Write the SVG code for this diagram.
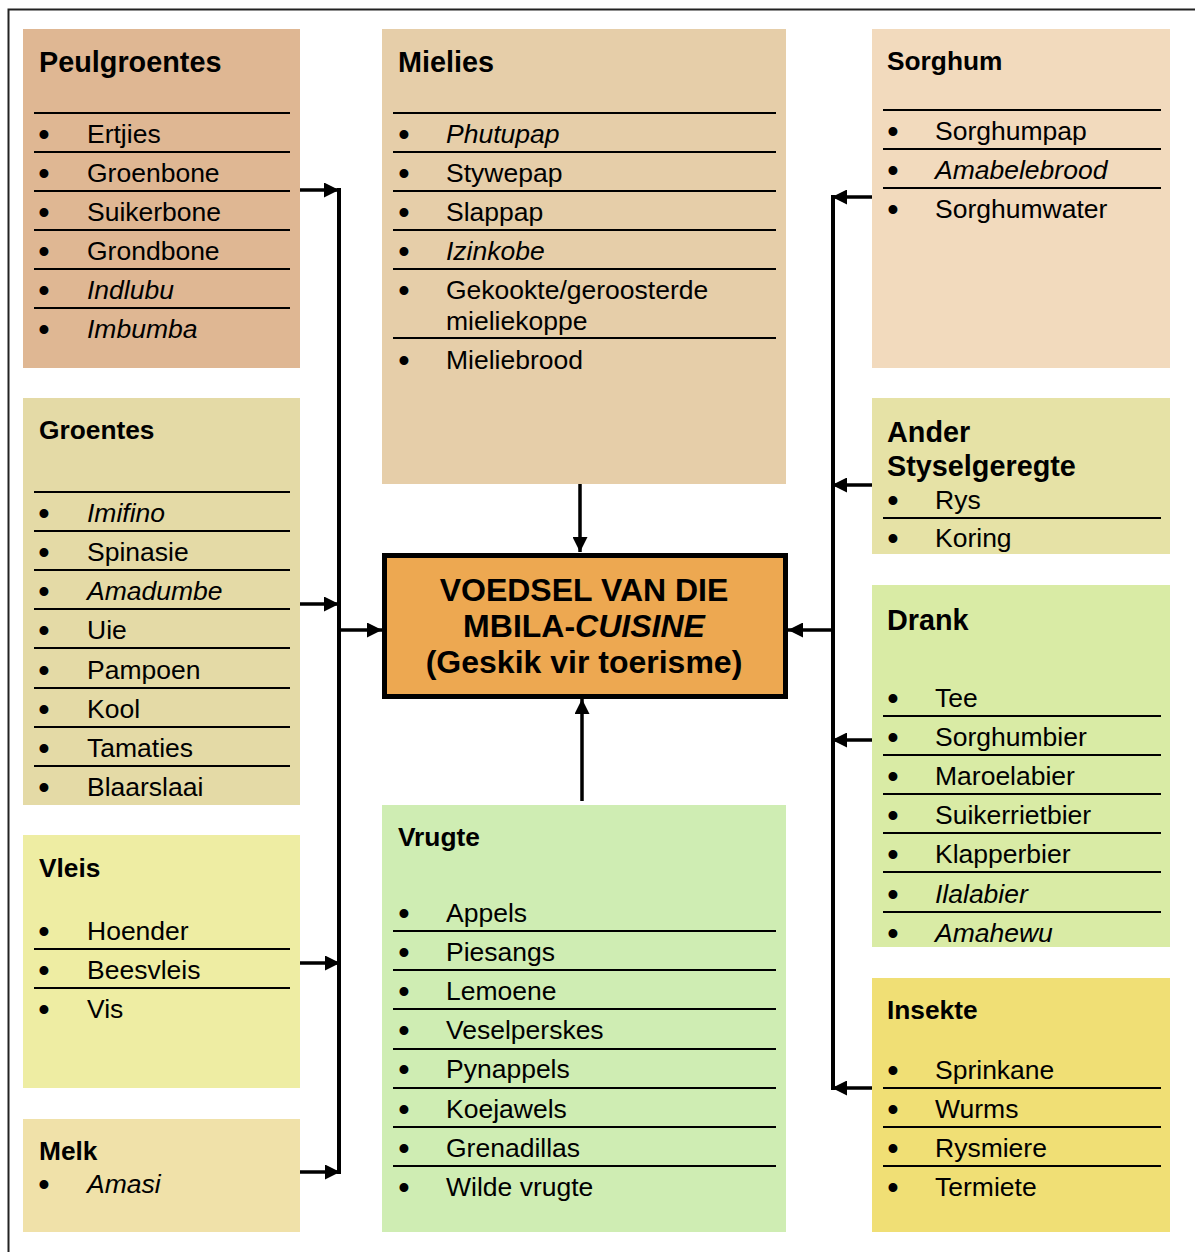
<svg xmlns="http://www.w3.org/2000/svg" width="1195" height="1252" viewBox="0 0 1195 1252">
<defs>
<style>
text{font-family:"Liberation Sans",Arial,sans-serif;fill:#000}
.t{font-weight:bold;font-size:26.3px}
.T{font-weight:bold;font-size:28.8px}
.i{font-size:26.5px}
.it{font-style:italic}
.b{font-size:31px;text-anchor:middle;font-weight:bold}
.sep{stroke:#000;stroke-width:2}
.con{stroke:#000;stroke-width:3.5;fill:none}
.trunk{stroke:#000;stroke-width:4;fill:none}
.ctr{font-weight:bold;font-size:32px;text-anchor:middle}
</style>
<marker id="ah" markerUnits="userSpaceOnUse" markerWidth="15" markerHeight="15" refX="15" refY="7.5" orient="auto" viewBox="0 0 15 15">
<path d="M0,0 L15,7.5 L0,15 z" fill="#000"/>
</marker>
</defs>
<rect x="0" y="0" width="1195" height="1252" fill="#fff"/>
<path d="M8.5,1252 L8.5,9.5 L1195,9.5" fill="none" stroke="#222" stroke-width="2"/>

<g id="connectors">
<path class="trunk" d="M339,188 L339,1174"/>
<path class="con" d="M300,190 L339,190" marker-end="url(#ah)"/>
<path class="con" d="M298,604 L339,604" marker-end="url(#ah)"/>
<path class="con" d="M300,963 L340,963" marker-end="url(#ah)"/>
<path class="con" d="M300,1172 L340,1172" marker-end="url(#ah)"/>
<path class="con" d="M339,630 L382,630" marker-end="url(#ah)"/>
<path class="trunk" d="M833,195 L833,1090"/>
<path class="con" d="M872,197 L832,197" marker-end="url(#ah)"/>
<path class="con" d="M872,485 L832,485" marker-end="url(#ah)"/>
<path class="con" d="M872,740 L832,740" marker-end="url(#ah)"/>
<path class="con" d="M872,1088 L832,1088" marker-end="url(#ah)"/>
<path class="con" d="M833,630 L788,630" marker-end="url(#ah)"/>
<path class="con" d="M580,483 L580,552" marker-end="url(#ah)"/>
<path class="con" d="M582,801 L582,699" marker-end="url(#ah)"/>
</g>

<g id="peulgroentes">
<rect x="23" y="29" width="277" height="339" fill="#DFB793"/>
<text class="T" x="39" y="72">Peulgroentes</text>
<path class="sep" d="M34,113H290M34,152H290M34,191H290M34,230H290M34,269H290M34,308H290"/>
<g class="b"><text x="44" y="145">•</text><text x="44" y="184">•</text><text x="44" y="223">•</text><text x="44" y="262">•</text><text x="44" y="301">•</text><text x="44" y="340">•</text></g>
<text class="i" x="87" y="143">Ertjies</text>
<text class="i" x="87" y="182">Groenbone</text>
<text class="i" x="87" y="221">Suikerbone</text>
<text class="i" x="87" y="260">Grondbone</text>
<text class="i it" x="87" y="299">Indlubu</text>
<text class="i it" x="87" y="338">Imbumba</text>
</g>

<g id="mielies">
<rect x="382" y="29" width="404" height="455" fill="#E6CEA9"/>
<text class="T" x="398" y="72">Mielies</text>
<path class="sep" d="M393,113H776M393,152H776M393,191H776M393,230H776M393,269H776M393,338H776"/>
<g class="b"><text x="404" y="145">•</text><text x="404" y="184">•</text><text x="404" y="223">•</text><text x="404" y="262">•</text><text x="404" y="301">•</text><text x="404" y="371">•</text></g>
<text class="i it" x="446" y="143">Phutupap</text>
<text class="i" x="446" y="182">Stywepap</text>
<text class="i" x="446" y="221">Slappap</text>
<text class="i it" x="446" y="260">Izinkobe</text>
<text class="i" x="446" y="299">Gekookte/geroosterde</text>
<text class="i" x="446" y="330">mieliekoppe</text>
<text class="i" x="446" y="369">Mieliebrood</text>
</g>

<g id="sorghum">
<rect x="872" y="29" width="298" height="339" fill="#F2DABD"/>
<text class="t" x="887" y="70">Sorghum</text>
<path class="sep" d="M883,110H1161M883,149H1161M883,188H1161"/>
<g class="b"><text x="893" y="142">•</text><text x="893" y="181">•</text><text x="893" y="220">•</text></g>
<text class="i" x="935" y="140">Sorghumpap</text>
<text class="i it" x="935" y="179">Amabelebrood</text>
<text class="i" x="935" y="218">Sorghumwater</text>
</g>

<g id="groentes">
<rect x="23" y="398" width="277" height="407" fill="#E4DAA6"/>
<text class="t" x="39" y="439">Groentes</text>
<path class="sep" d="M34,492H290M34,531H290M34,570H290M34,609H290M34,648H290M34,688H290M34,727H290M34,766H290"/>
<g class="b"><text x="44" y="524">•</text><text x="44" y="563">•</text><text x="44" y="602">•</text><text x="44" y="641">•</text><text x="44" y="681">•</text><text x="44" y="720">•</text><text x="44" y="759">•</text><text x="44" y="798">•</text></g>
<text class="i it" x="87" y="522">Imifino</text>
<text class="i" x="87" y="561">Spinasie</text>
<text class="i it" x="87" y="600">Amadumbe</text>
<text class="i" x="87" y="639">Uie</text>
<text class="i" x="87" y="679">Pampoen</text>
<text class="i" x="87" y="718">Kool</text>
<text class="i" x="87" y="757">Tamaties</text>
<text class="i" x="87" y="796">Blaarslaai</text>
</g>

<g id="ander">
<rect x="872" y="398" width="298" height="156" fill="#E6E2A6"/>
<text class="T" x="887" y="442">Ander</text>
<text class="T" x="887" y="476">Styselgeregte</text>
<path class="sep" d="M883,518H1161"/>
<g class="b"><text x="893" y="511">•</text><text x="893" y="549">•</text></g>
<text class="i" x="935" y="509">Rys</text>
<text class="i" x="935" y="547">Koring</text>
</g>

<g id="sentrum">
<rect x="384.5" y="555.5" width="401" height="141" fill="#EDA851" stroke="#000" stroke-width="5"/>
<text class="ctr" x="584" y="601">VOEDSEL VAN DIE</text>
<text class="ctr" x="584" y="637">MBILA-<tspan font-style="italic">CUISINE</tspan></text>
<text class="ctr" x="584" y="673">(Geskik vir toerisme)</text>
</g>

<g id="drank">
<rect x="872" y="585" width="298" height="362" fill="#D9EBA5"/>
<text class="T" x="887" y="630">Drank</text>
<path class="sep" d="M883,716H1161M883,755H1161M883,794H1161M883,833H1161M883,872H1161M883,912H1161"/>
<g class="b"><text x="893" y="709">•</text><text x="893" y="748">•</text><text x="893" y="787">•</text><text x="893" y="826">•</text><text x="893" y="865">•</text><text x="893" y="905">•</text><text x="893" y="944">•</text></g>
<text class="i" x="935" y="707">Tee</text>
<text class="i" x="935" y="746">Sorghumbier</text>
<text class="i" x="935" y="785">Maroelabier</text>
<text class="i" x="935" y="824">Suikerrietbier</text>
<text class="i" x="935" y="863">Klapperbier</text>
<text class="i it" x="935" y="903">Ilalabier</text>
<text class="i it" x="935" y="942">Amahewu</text>
</g>

<g id="vleis">
<rect x="23" y="835" width="277" height="253" fill="#EEEDA3"/>
<text class="t" x="39" y="877">Vleis</text>
<path class="sep" d="M34,949H290M34,988H290"/>
<g class="b"><text x="44" y="942">•</text><text x="44" y="981">•</text><text x="44" y="1020">•</text></g>
<text class="i" x="87" y="940">Hoender</text>
<text class="i" x="87" y="979">Beesvleis</text>
<text class="i" x="87" y="1018">Vis</text>
</g>

<g id="vrugte">
<rect x="382" y="805" width="404" height="427" fill="#CFEDB3"/>
<text class="t" x="398" y="846">Vrugte</text>
<path class="sep" d="M393,931H776M393,970H776M393,1009H776M393,1049H776M393,1088H776M393,1127H776M393,1166H776"/>
<g class="b"><text x="404" y="924">•</text><text x="404" y="963">•</text><text x="404" y="1002">•</text><text x="404" y="1041">•</text><text x="404" y="1080">•</text><text x="404" y="1120">•</text><text x="404" y="1159">•</text><text x="404" y="1198">•</text></g>
<text class="i" x="446" y="922">Appels</text>
<text class="i" x="446" y="961">Piesangs</text>
<text class="i" x="446" y="1000">Lemoene</text>
<text class="i" x="446" y="1039">Veselperskes</text>
<text class="i" x="446" y="1078">Pynappels</text>
<text class="i" x="446" y="1118">Koejawels</text>
<text class="i" x="446" y="1157">Grenadillas</text>
<text class="i" x="446" y="1196">Wilde vrugte</text>
</g>

<g id="insekte">
<rect x="872" y="978" width="298" height="254" fill="#F0DF75"/>
<text class="t" x="887" y="1019">Insekte</text>
<path class="sep" d="M883,1088H1161M883,1127H1161M883,1166H1161"/>
<g class="b"><text x="893" y="1081">•</text><text x="893" y="1120">•</text><text x="893" y="1159">•</text><text x="893" y="1198">•</text></g>
<text class="i" x="935" y="1079">Sprinkane</text>
<text class="i" x="935" y="1118">Wurms</text>
<text class="i" x="935" y="1157">Rysmiere</text>
<text class="i" x="935" y="1196">Termiete</text>
</g>

<g id="melk">
<rect x="23" y="1119" width="277" height="113" fill="#F0E1A9"/>
<text class="t" x="39" y="1160">Melk</text>
<g class="b"><text x="44" y="1195">•</text></g>
<text class="i it" x="87" y="1193">Amasi</text>
</g>
</svg>
